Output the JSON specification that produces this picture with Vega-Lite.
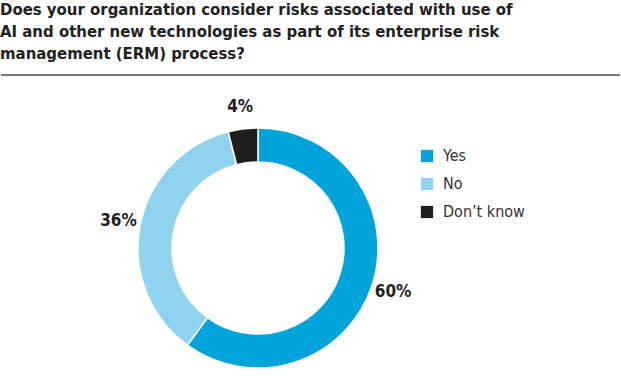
{
  "$schema": "https://vega.github.io/schema/vega-lite/v6.json",
  "width": 621,
  "height": 376,
  "autosize": {"type": "fit", "contains": "padding"},
  "padding": {"top": 2, "left": 0, "right": 0, "bottom": 0},
  "background": "white",
  "title": {
    "text": ["Does your organization consider risks associated with use of", "AI and other new technologies as part of its enterprise risk", "management (ERM) process?"],
    "anchor": "start",
    "frame": "bounds",
    "font": "DejaVu Sans Condensed, Liberation Sans, sans-serif",
    "fontWeight": "bold",
    "fontSize": 16.6,
    "lineHeight": 22,
    "color": "#222222",
    "offset": 11
  },
  "data": {
    "values": [
      {"answer": "Yes", "share": 60, "label": "60%", "rank": 1},
      {"answer": "No", "share": 36, "label": "36%", "rank": 2},
      {"answer": "Don’t know", "share": 4, "label": "4%", "rank": 3}
    ]
  },
  "layer": [
    {
      "mark": {"type": "rule", "color": "#7a7a7a", "strokeWidth": 2},
      "encoding": {
        "x": {"value": 0},
        "x2": {"value": "width"},
        "y": {"value": 0}
      }
    },
    {
      "mark": {"type": "arc", "outerRadius": 120, "innerRadius": 86, "stroke": "white", "strokeWidth": 1.5},
      "encoding": {
        "theta": {"field": "share", "type": "quantitative", "stack": true},
        "order": {"field": "rank", "type": "quantitative"},
        "color": {
          "field": "answer",
          "type": "nominal",
          "sort": ["Yes", "No", "Don’t know"],
          "scale": {"domain": ["Yes", "No", "Don’t know"], "range": ["#00a3da", "#8fd3ee", "#1e1e1e"]},
          "legend": {
            "title": null,
            "orient": "none",
            "legendX": 418,
            "legendY": 73,
            "symbolType": "square",
            "symbolSize": 150,
            "symbolStrokeWidth": 0,
            "labelFont": "DejaVu Sans Condensed, Liberation Sans, sans-serif",
            "labelFontSize": 16,
            "labelColor": "#333333",
            "labelOffset": 8,
            "rowPadding": 12
          }
        },
        "x": {"value": 257},
        "y": {"value": 173}
      }
    },
    {
      "mark": {"type": "text", "radius": 142, "font": "DejaVu Sans Condensed, Liberation Sans, sans-serif", "fontWeight": "bold", "fontSize": 17, "color": "#222222"},
      "encoding": {
        "theta": {"field": "share", "type": "quantitative", "stack": true},
        "order": {"field": "rank", "type": "quantitative"},
        "text": {"field": "label"},
        "x": {"value": 257},
        "y": {"value": 173}
      }
    }
  ],
  "config": {"view": {"stroke": null}}
}
